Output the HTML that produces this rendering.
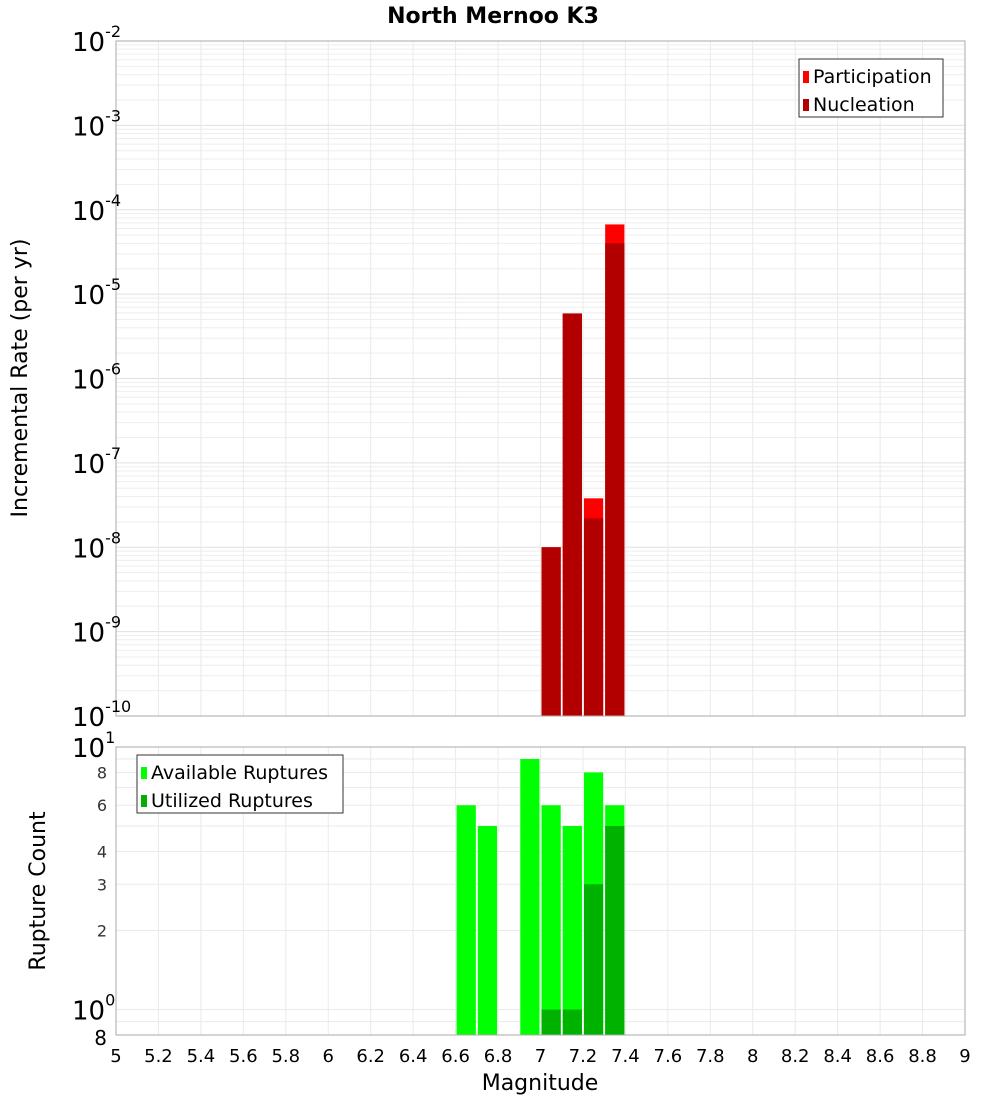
<!DOCTYPE html>
<html><head><meta charset="utf-8"><style>
body{margin:0;background:#fff;font-family:"DejaVu Sans","Liberation Sans",sans-serif}
svg text{font-family:"DejaVu Sans","Liberation Sans",sans-serif}
</style></head><body>
<svg id="c" width="1000" height="1100" xmlns="http://www.w3.org/2000/svg">
<text x="493" y="23" text-anchor="middle" font-size="22" font-weight="bold">North Mernoo K3</text>
<g id="topPlot"></g>
<g id="botPlot"></g>
<text transform="translate(27,378) rotate(-90)" text-anchor="middle" font-size="22">Incremental Rate (per yr)</text>
<text transform="translate(45,891) rotate(-90)" text-anchor="middle" font-size="22">Rupture Count</text>
<text x="540" y="1090" text-anchor="middle" font-size="22">Magnitude</text>
</svg>
<script>
const mags=[6.65,6.75,6.95,7.05,7.15,7.25,7.35];
const available=[6,5,9,6,5,8,6];
const utilized=[0,0,0,1,1,3,5];
const rateMags=[7.05,7.15,7.25,7.35];
const participation=[1e-8,5.9e-6,3.8e-8,6.7e-5];
const nucleation=[1e-8,5.9e-6,2.2e-8,4e-5];
const xTicks=[5,5.2,5.4,5.6,5.8,6,6.2,6.4,6.6,6.8,7,7.2,7.4,7.6,7.8,8,8.2,8.4,8.6,8.8,9];
const rateExps=[-2,-3,-4,-5,-6,-7,-8,-9,-10];
const countTicks=[8,6,4,3,2];

const NS="http://www.w3.org/2000/svg";
const L=116,R=965,T1=41,B1=716,T2=747,B2=1035;
const x=m=>L+(m-5)/4*(R-L);
const yR=v=>B1-(Math.log10(v)+10)/8*(B1-T1);
const yC=v=>B2-(Math.log10(v)-Math.log10(0.8))/Math.log10(12.5)*(B2-T2);
function el(p,t,a){const e=document.createElementNS(NS,t);for(const k in a)e.setAttribute(k,a[k]);p.appendChild(e);return e;}
const gTop=document.getElementById('topPlot'),gBot=document.getElementById('botPlot');

for(let e=-10;e<-2;e++)for(let k=1;k<10;k++){const yy=yR(k*Math.pow(10,e));
 const g=el(gTop,'line',{x1:L,x2:R,y1:yy,y2:yy,stroke:k==1?'#e0e0e0':'#eeeeee','stroke-width':1});
 
 }
[0.8,0.9,1,2,3,4,5,6,7,8,9,10].forEach(v=>{const yy=yC(v);
 const g=el(gBot,'line',{x1:L,x2:R,y1:yy,y2:yy,stroke:'#eaeaea','stroke-width':1});
 
 });
xTicks.forEach(m=>{[[gTop,T1,B1],[gBot,T2,B2]].forEach(([g,a,b])=>{
 const l=el(g,'line',{x1:x(m),x2:x(m),y1:a,y2:b,stroke:'#eaeaea','stroke-width':1});
 
 });
 const t=el(gBot,'text',{x:x(m),y:1062,'text-anchor':'middle','font-size':18});
 t.textContent=String(m);
 
 });

const bw=(x(0.1)-x(0))-2;
rateMags.forEach((m,i)=>{
 const p=el(gTop,'rect',{x:x(m)-bw/2,y:yR(participation[i]),width:bw,height:B1-yR(participation[i]),fill:'#ff0000'});
 
 
 const n=el(gTop,'rect',{x:x(m)-bw/2,y:yR(nucleation[i]),width:bw,height:B1-yR(nucleation[i]),fill:'#b20000'});
 
 });
mags.forEach((m,i)=>{
 const a=el(gBot,'rect',{x:x(m)-bw/2,y:yC(available[i]),width:bw,height:B2-yC(available[i]),fill:'#00ff00'});
 
 
 if(utilized[i]>0){const u=el(gBot,'rect',{x:x(m)-bw/2,y:yC(utilized[i]),width:bw,height:B2-yC(utilized[i]),fill:'#00b200'});
 
 }});

[[gTop,T1,B1],[gBot,T2,B2]].forEach(([g,a,b])=>{const f=el(g,'rect',{x:L,y:a,width:R-L,height:b-a,fill:'none',stroke:'#aaaaaa'});
 
 });

rateExps.forEach(e=>{const yy=yR(Math.pow(10,e));
 const t=el(gTop,'text',{x:72,y:yy+10,'font-size':26});
 t.textContent='10';
 const s=el(t,'tspan',{dy:-14,'font-size':16});s.textContent=String(e);
 
 });
[[10,'1'],[1,'0']].forEach(([v,e])=>{const t=el(gBot,'text',{x:72,y:yC(v)+10,'font-size':26});
 t.textContent='10';const s=el(t,'tspan',{dy:-14,'font-size':16});s.textContent=e;
 
 });
countTicks.forEach(v=>{const t=el(gBot,'text',{x:107,y:yC(v)+6,'font-size':16,'text-anchor':'end',fill:'#333'});
 t.textContent=String(v);
 
 });
{const t=el(gBot,'text',{x:107,y:B2+10,'font-size':20,'text-anchor':'end'});t.textContent='8';
 
 }

function legend(g,x0,y0,w,items,name){const lg=el(g,'g',{});
 
 
 el(lg,'rect',{x:x0,y:y0,width:w,height:58,fill:'#fff',stroke:'#333'});
 items.forEach(([c,txt],i)=>{el(lg,'rect',{x:x0+4,y:y0+12+i*28,width:6,height:12,fill:c});
 const t=el(lg,'text',{x:x0+14,y:y0+24+i*28,'font-size':19});t.textContent=txt;});}
legend(gTop,799,59,144,[['#ff0000','Participation'],['#b20000','Nucleation']],'rate-legend');
legend(gBot,137,755,206,[['#00ff00','Available Ruptures'],['#00b200','Utilized Ruptures']],'count-legend');
</script>
</body></html>
